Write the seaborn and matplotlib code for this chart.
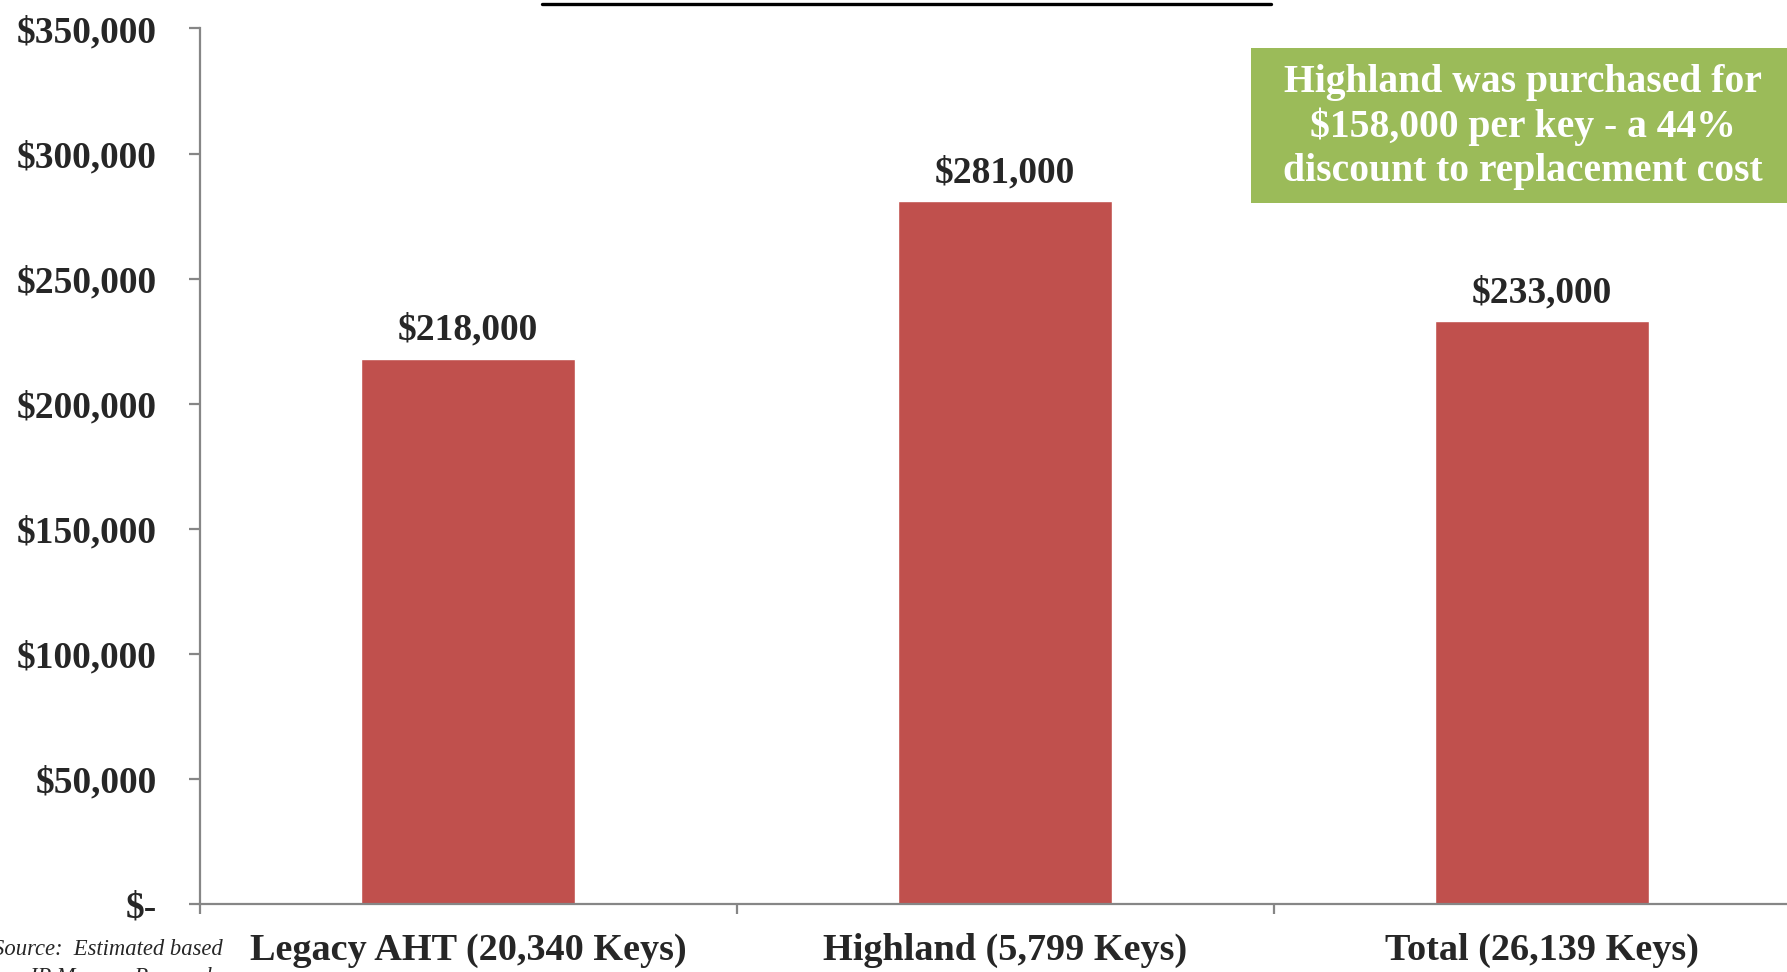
import matplotlib
matplotlib.use("Agg")
import matplotlib.pyplot as plt
import seaborn as sns
from matplotlib.patches import Rectangle
from matplotlib.lines import Line2D
from matplotlib.ticker import FuncFormatter, FixedLocator

categories = ["Legacy AHT (20,340 Keys)", "Highland (5,799 Keys)", "Total (26,139 Keys)"]
cost_per_key = [218000, 281000, 233000]
y_ticks = [0, 50000, 100000, 150000, 200000, 250000, 300000, 350000]
box_text = "Highland was purchased for\n$158,000 per key - a 44%\ndiscount to replacement cost"
source_lines = ["Source:  Estimated based", "on JP Morgan Research"]

bar_color = "#C0504D"
box_color = "#9BBB59"
axis_gray = "#868686"

sns.set_style("white")
plt.rcParams['font.family'] = ['Liberation Serif', 'DejaVu Serif']

W, H = 1787, 972
fig = plt.figure(figsize=(W / 100, H / 100), dpi=100)
ax = fig.add_axes([199.5 / W, 68 / H, 1611 / W, 875.5 / H])

sns.barplot(x=categories, y=cost_per_key, color=bar_color, saturation=1,
            width=0.4, errorbar=None, ax=ax)

ax.set_xlim(-0.5, 2.5)
ax.set_ylim(0, 350000)
ax.yaxis.set_major_locator(FixedLocator(y_ticks))
ax.yaxis.set_major_formatter(FuncFormatter(lambda v, p: "$-" if v == 0 else f"${v:,.0f}"))
ax.xaxis.set_minor_locator(FixedLocator([-0.5, 0.5, 1.5, 2.5]))

for s in ["top", "right"]:
    ax.spines[s].set_visible(False)
for s in ["left", "bottom"]:
    ax.spines[s].set_color(axis_gray)
    ax.spines[s].set_linewidth(1.6)

ax.tick_params(axis="y", which="major", direction="out", length=8, width=1.6,
               color=axis_gray, pad=23, labelsize=27, left=True)
ax.tick_params(axis="x", which="major", length=0, pad=21, labelsize=27.5)
ax.tick_params(axis="x", which="minor", direction="out", length=7.5, width=1.6,
               color=axis_gray, bottom=True)
for lbl in ax.get_yticklabels() + ax.get_xticklabels():
    lbl.set_fontweight("bold")
ax.set_xlabel("")
ax.set_ylabel("")

ax.bar_label(ax.containers[0], labels=[f"${v:,.0f}" for v in cost_per_key],
             padding=8, fontsize=27, fontweight="bold")

# callout box
fig.patches.append(Rectangle((1251 / W, 1 - 203 / H), 540 / W, 155 / H,
                             transform=fig.transFigure, facecolor=box_color,
                             edgecolor="none", zorder=3))
fig.text(1523 / W, 1 - 127 / H, box_text, ha="center", va="center",
         fontsize=28.5, fontweight="bold", color="white", linespacing=1.24, zorder=4)

# title underline (title itself sits above the visible area)
fig.lines.append(Line2D([542 / W, 1271 / W], [1 - 4 / H, 1 - 4 / H],
                        transform=fig.transFigure, color="black", linewidth=2.4))

# source note
fig.text(108 / W, 1 - 955 / H, source_lines[0], ha="center", va="baseline",
         fontsize=16.3, style="italic")
fig.text(108 / W, 1 - 983 / H, source_lines[1], ha="center", va="baseline",
         fontsize=16.3, style="italic")

fig.savefig("out.png", dpi=100)
